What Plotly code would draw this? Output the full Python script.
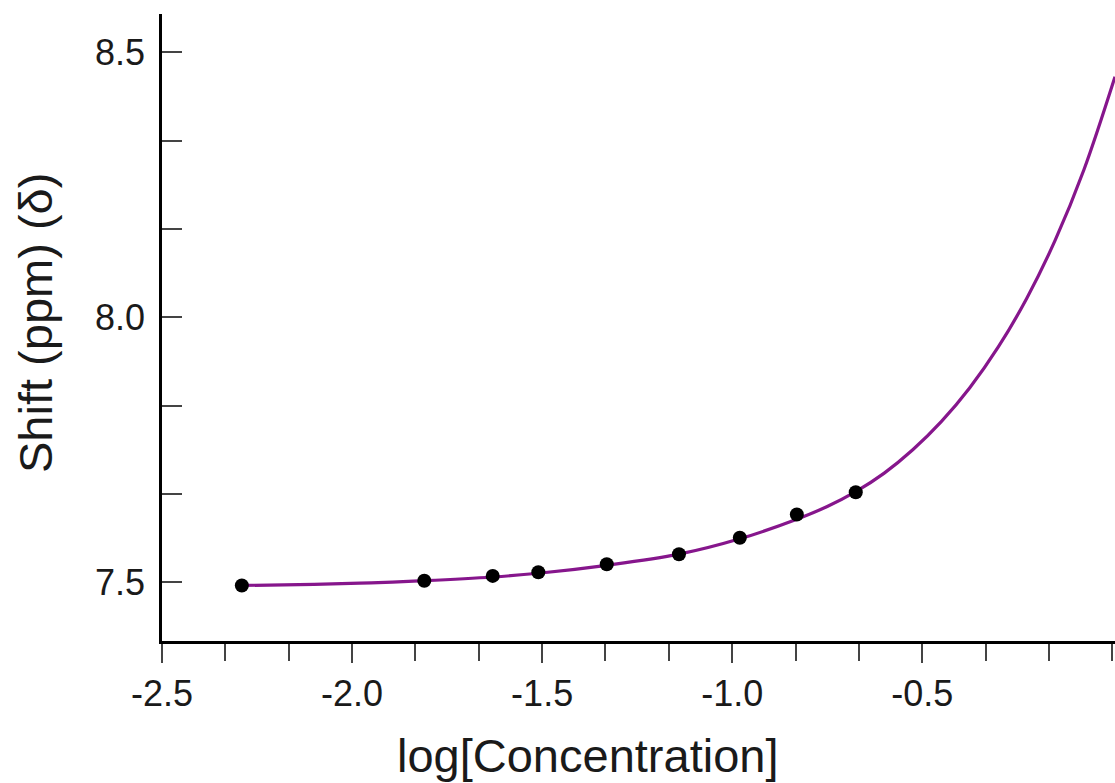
import plotly.graph_objects as go

# Measured data points (log concentration vs chemical shift)
conc_log = [-2.29, -1.81, -1.63, -1.51, -1.33, -1.14, -0.98, -0.83, -0.675]
shift_ppm = [7.494, 7.503, 7.512, 7.519, 7.534, 7.553, 7.584, 7.628, 7.670]

# Fitted curve
fit_x = [-2.29, -2.10, -1.95, -1.81, -1.63, -1.51, -1.33, -1.14, -0.98, -0.83,
         -0.75, -0.675, -0.60, -0.525, -0.45, -0.375, -0.30, -0.225, -0.15,
         -0.075, 0.007]
fit_y = [7.494, 7.496, 7.499, 7.503, 7.510, 7.517, 7.532, 7.553, 7.582, 7.619,
         7.643, 7.671, 7.706, 7.750, 7.803, 7.867, 7.944, 8.036, 8.146,
         8.278, 8.454]

x_tickvals = [-2.5, -2.0, -1.5, -1.0, -0.5]
x_ticktext = ["-2.5", "-2.0", "-1.5", "-1.0", "-0.5"]
y_tickvals = [7.5, 8.0, 8.5]
y_ticktext = ["7.5", "8.0", "8.5"]

x_title = "log[Concentration]"
y_title = "Shift (ppm) (δ)"

FONT = "Liberation Sans, Arial, Helvetica, sans-serif"

fig = go.Figure()
fig.add_trace(go.Scatter(
    x=fit_x, y=fit_y, mode="lines",
    line=dict(color="#86168C", width=3.2, shape="spline", smoothing=1.0),
    hoverinfo="skip", showlegend=False,
))
fig.add_trace(go.Scatter(
    x=conc_log, y=shift_ppm, mode="markers",
    marker=dict(color="black", size=14, line=dict(width=0)),
    showlegend=False,
))

fig.update_layout(
    width=1115, height=783,
    margin=dict(l=162, r=0, t=14, b=142, pad=0),
    paper_bgcolor="white", plot_bgcolor="white",
    font=dict(family=FONT, color="#1a1a1a"),
    xaxis=dict(
        range=[-2.5, 0.007],
        tickmode="array", tickvals=x_tickvals, ticktext=x_ticktext,
        ticks="outside", ticklen=19, tickwidth=2, tickcolor="#444",
        tickfont=dict(size=36, family=FONT, color="#1a1a1a"),
        showline=True, linecolor="black", linewidth=2.5,
        showgrid=False, zeroline=False,
        minor=dict(tickmode="linear", tick0=-2.5, dtick=1/6,
                   ticks="outside", ticklen=17, tickwidth=2, tickcolor="#444",
                   showgrid=False),
    ),
    yaxis=dict(
        range=[7.3892, 8.5723],
        tickmode="array", tickvals=y_tickvals, ticktext=y_ticktext,
        ticks="inside", ticklen=20, tickwidth=2, tickcolor="#444",
        tickfont=dict(size=36, family=FONT, color="#1a1a1a"),
        ticklabelstandoff=7,
        showline=True, linecolor="black", linewidth=2.5,
        showgrid=False, zeroline=False,
        minor=dict(tickmode="linear", tick0=7.5, dtick=1/6,
                   ticks="inside", ticklen=20, tickwidth=2, tickcolor="#444",
                   showgrid=False),
    ),
    annotations=[
        dict(text=x_title, xref="paper", yref="paper",
             x=(587 - 162) / 953, y=(641 - 756) / 627,
             xanchor="center", yanchor="middle", showarrow=False,
             font=dict(size=47, family=FONT, color="#1a1a1a")),
        dict(text=y_title, xref="paper", yref="paper", textangle=-90,
             x=(35 - 162) / 953, y=(641 - 323) / 627,
             xanchor="center", yanchor="middle", showarrow=False,
             font=dict(size=47, family=FONT, color="#1a1a1a")),
    ],
)

fig.write_html(
    "out.html",
    config={"displayModeBar": False},
    post_script="document.body.style.margin='0';document.body.style.overflow='hidden';",
)
